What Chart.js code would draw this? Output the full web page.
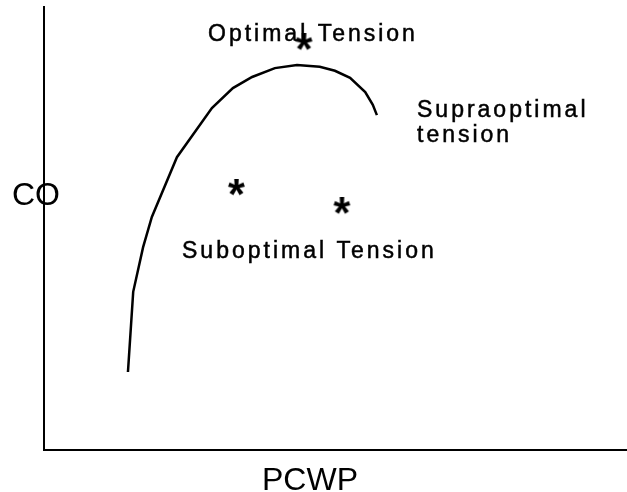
<!DOCTYPE html>
<html>
<head>
<meta charset="utf-8">
<script src="https://cdn.jsdelivr.net/npm/chart.js@4/dist/chart.umd.min.js"></script>
<style>
  html, body { margin: 0; padding: 0; background: #fff; }
  #wrap { width: 627px; height: 492px; }
</style>
</head>
<body>
<div id="wrap"><canvas id="c" width="627" height="492"></canvas></div>
<script>
// ---- data (arbitrary units, axes have no ticks) ----
const curveX = [14.4, 15.3, 17.0, 18.5, 22.8, 28.8, 32.4, 35.7, 39.6, 43.4, 47.3, 49.9, 52.5, 55.1, 56.4, 57.1];
const curveY = [17.6, 35.7, 45.8, 52.6, 66.1, 77.2, 81.7, 84.2, 86.2, 86.9, 86.5, 85.6, 84.0, 80.8, 77.9, 75.6];
const starX = [44.6, 33.0, 51.1];
const starY = [91.9, 59.1, 54.9];
const xTitle = "PCWP";
const yTitle = "CO";
const noteTexts = ["Optimal Tension", "Suboptimal Tension", "Supraoptimal", "tension"];

// ---- layout (pixels) ----
const noteLayout = [
  { x: 208, y: 41 },
  { x: 182, y: 258 },
  { x: 417, y: 117 },
  { x: 417, y: 142 }
];

function makeStar(size) {
  const big = document.createElement('canvas');
  const m = big.getContext('2d');
  m.font = 'bold 100px "Liberation Sans", Arial, sans-serif';
  const mt = m.measureText('*');
  const w = mt.actualBoundingBoxLeft + mt.actualBoundingBoxRight;
  const h = mt.actualBoundingBoxAscent + mt.actualBoundingBoxDescent;
  const s = size / Math.max(w, h);
  const c = document.createElement('canvas');
  c.width = size + 2; c.height = size + 2;
  const g = c.getContext('2d');
  g.translate(c.width / 2, c.height / 2);
  g.scale(s, s);
  g.font = 'bold 100px "Liberation Sans", Arial, sans-serif';
  g.fillStyle = '#000';
  g.textBaseline = 'alphabetic';
  const cx = (mt.actualBoundingBoxRight - mt.actualBoundingBoxLeft) / 2;
  const cy = (mt.actualBoundingBoxDescent - mt.actualBoundingBoxAscent) / 2;
  g.fillText('*', -cx, -cy);
  return c;
}
const starImg = makeStar(17);

const curveData = curveX.map((x, i) => ({ x, y: curveY[i] }));
const starData = starX.map((x, i) => ({ x, y: starY[i] }));

const textPlugin = {
  id: 'texts',
  afterDraw(chart) {
    const ctx = chart.ctx;
    ctx.save();
    ctx.fillStyle = '#000';
    ctx.strokeStyle = '#000';
    ctx.lineWidth = 0.5;
    ctx.textBaseline = 'alphabetic';
    ctx.textAlign = 'left';
    ctx.font = '23px "Liberation Sans", Arial, sans-serif';
    ctx.letterSpacing = '3px';
    noteTexts.forEach((t, i) => {
      ctx.fillText(t, noteLayout[i].x, noteLayout[i].y);
      ctx.strokeText(t, noteLayout[i].x, noteLayout[i].y);
    });
    ctx.letterSpacing = '0px';
    ctx.font = '32px "Liberation Sans", Arial, sans-serif';
    ctx.fillText(yTitle, 12, 205);
    ctx.textAlign = 'center';
    ctx.fillText(xTitle, 310, 490);
    ctx.restore();
  }
};

new Chart(document.getElementById('c'), {
  type: 'line',
  data: {
    datasets: [
      {
        data: curveData,
        borderColor: '#000',
        borderWidth: 2.5,
        pointRadius: 0,
        tension: 0,
        fill: false
      },
      {
        data: starData,
        showLine: false,
        pointStyle: starImg,
        pointRadius: 9,
        borderColor: '#000',
        backgroundColor: '#000'
      }
    ]
  },
  options: {
    responsive: false,
    animation: false,
    events: [],
    layout: { autoPadding: false, padding: { left: 44, top: 7, right: 0, bottom: 42 } },
    plugins: { legend: { display: false }, tooltip: { enabled: false } },
    scales: {
      x: {
        type: 'linear', min: 0, max: 100,
        grid: { display: false },
        ticks: { display: false },
        border: { display: true, color: '#000', width: 2 },
        afterFit(s) { s.height = 0; }
      },
      y: {
        type: 'linear', min: 0, max: 100,
        grid: { display: false },
        ticks: { display: false },
        border: { display: true, color: '#000', width: 2 },
        afterFit(s) { s.width = 0; }
      }
    }
  },
  plugins: [textPlugin]
});
</script>
</body>
</html>
